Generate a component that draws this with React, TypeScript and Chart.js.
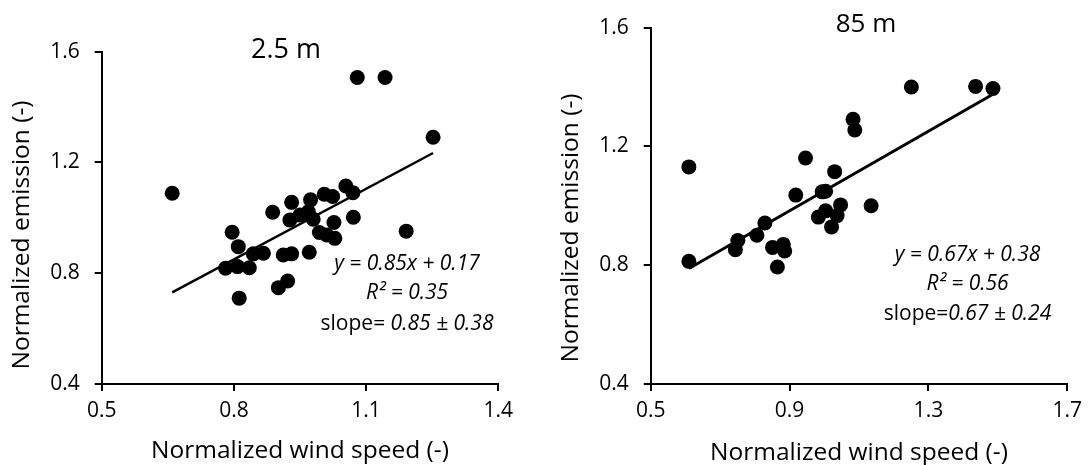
import React, { useEffect, useRef } from "react";
import { Chart, registerables } from "chart.js";

Chart.register(...registerables);

const FONT = "'Open Sans', 'Noto Sans', sans-serif";

// ---- Data: 2.5 m panel ----
const wind25 = [0.660, 1.080, 1.143, 1.252, 1.191, 0.796, 0.810, 0.781, 0.808, 0.835, 0.812, 0.844, 0.867, 0.888, 0.901, 0.922, 0.912, 0.931, 0.927, 0.931, 0.950, 0.971, 0.974, 0.980, 0.994, 1.005, 1.024, 1.011, 1.027, 1.029, 1.054, 1.070, 1.071, 0.969];
const emission25 = [1.089, 1.507, 1.507, 1.291, 0.952, 0.948, 0.896, 0.818, 0.824, 0.820, 0.710, 0.870, 0.872, 1.020, 0.748, 0.772, 0.866, 0.870, 0.992, 1.056, 1.010, 0.876, 1.065, 0.995, 0.947, 1.085, 1.077, 0.938, 0.983, 0.926, 1.115, 1.091, 1.002, 1.022];
const fit25 = { slope: 0.85, intercept: 0.17 };
const xTicks25 = [0.5, 0.8, 1.1, 1.4];

// ---- Data: 85 m panel ----
const wind85 = [0.610, 0.610, 0.751, 0.744, 0.806, 0.829, 0.851, 0.882, 0.886, 0.865, 0.918, 0.946, 0.994, 1.004, 1.030, 0.983, 1.004, 1.021, 1.037, 1.047, 1.083, 1.088, 1.135, 1.251, 1.436, 1.486];
const emission85 = [1.131, 0.813, 0.883, 0.852, 0.901, 0.942, 0.860, 0.870, 0.848, 0.794, 1.036, 1.161, 1.047, 1.049, 1.115, 0.962, 0.983, 0.929, 0.967, 1.003, 1.291, 1.255, 1.000, 1.400, 1.402, 1.395];
const fit85 = { slope: 0.67, intercept: 0.38 };
const xTicks85 = [0.5, 0.9, 1.3, 1.7];

const yTicks = [0.4, 0.8, 1.2, 1.6];

const panels = [
  {
    title: "2.5 m",
    wind: wind25,
    emission: emission25,
    fit: fit25,
    xTicks: xTicks25,
    eqText: "y = 0.85x + 0.17",
    r2Text: "R² = 0.35",
    slopeLabel: "slope= ",
    slopeText: "0.85 ± 0.38",
    width: 545,
    left: 101.7,
    right: 498.3,
    top: 51.7,
    bottom: 384,
    lineWidth: 2.5,
    titleSize: 27,
    titleX: 286,
    titleY: 58,
    yTitleX: 22.4,
    yTitleY: 235,
    xTitleY: 458,
    annX: 407,
    annY: [270, 299, 329.5],
  },
  {
    title: "85 m",
    wind: wind85,
    emission: emission85,
    fit: fit85,
    xTicks: xTicks85,
    eqText: "y = 0.67x + 0.38",
    r2Text: "R² = 0.56",
    slopeLabel: "slope=",
    slopeText: "0.67 ± 0.24",
    width: 544,
    left: 105.7,
    right: 525,
    top: 19.3,
    bottom: 384,
    lineWidth: 3,
    titleSize: 26,
    titleX: 321,
    titleY: 32,
    yTitleX: 26.5,
    yTitleY: 228,
    xTitleY: 460,
    annX: 422.5,
    annY: [261, 290, 320],
  },
];

const HEIGHT = 465;

const textPlugin = {
  id: "panelTexts",
  afterDraw(chart: any, _args: any, opts: any) {
    const p = opts.panel;
    if (!p) return;
    const ctx = chart.ctx;
    const a = chart.chartArea;
    ctx.save();
    ctx.fillStyle = "#000";
    ctx.textAlign = "center";
    ctx.textBaseline = "alphabetic";
    // title
    ctx.font = `${p.titleSize}px ${FONT}`;
    ctx.fillText(p.title, p.titleX, p.titleY);
    // x title
    ctx.font = `24.5px ${FONT}`;
    ctx.fillText("Normalized wind speed (-)", (a.left + a.right) / 2, p.xTitleY);
    // y title
    ctx.save();
    ctx.translate(p.yTitleX, p.yTitleY);
    ctx.rotate(-Math.PI / 2);
    ctx.textBaseline = "middle";
    ctx.fillText("Normalized emission (-)", 0, 0);
    ctx.restore();
    // annotations
    const ital = `italic 21px ${FONT}`;
    const reg = `21px ${FONT}`;
    ctx.font = ital;
    ctx.fillText(p.eqText, p.annX, p.annY[0]);
    ctx.fillText(p.r2Text, p.annX, p.annY[1]);
    ctx.font = reg;
    const w1 = ctx.measureText(p.slopeLabel).width;
    ctx.font = ital;
    const w2 = ctx.measureText(p.slopeText).width;
    const x0 = p.annX - (w1 + w2) / 2;
    ctx.textAlign = "left";
    ctx.font = reg;
    ctx.fillText(p.slopeLabel, x0, p.annY[2]);
    ctx.font = ital;
    ctx.fillText(p.slopeText, x0 + w1, p.annY[2]);
    ctx.restore();
  },
};

function Panel({ p }: { p: any }) {
  const ref = useRef<HTMLCanvasElement | null>(null);
  useEffect(() => {
    if (!ref.current) return;
    const xmin = Math.min(...p.wind);
    const xmax = Math.max(...p.wind);
    const fitLine = [xmin, xmax].map((x) => ({ x, y: p.fit.slope * x + p.fit.intercept }));
    const tickFont = { family: FONT, size: 21 };
    const chart = new Chart(ref.current, {
      type: "scatter",
      data: {
        datasets: [
          {
            type: "line",
            data: fitLine,
            borderColor: "#000",
            borderWidth: p.lineWidth,
            pointRadius: 0,
            fill: false,
          } as any,
          {
            type: "scatter",
            data: p.wind.map((x: number, i: number) => ({ x, y: p.emission[i] })),
            backgroundColor: "#000",
            borderColor: "#000",
            borderWidth: 0,
            pointRadius: 7.5,
            pointHoverRadius: 7.5,
          },
        ],
      },
      options: {
        responsive: false,
        animation: false,
        events: [],
        layout: { padding: { left: 0, top: p.top, right: p.width - p.right, bottom: 0 } },
        plugins: {
          legend: { display: false },
          tooltip: { enabled: false },
          panelTexts: { panel: p },
        } as any,
        scales: {
          x: {
            type: "linear",
            min: p.xTicks[0],
            max: p.xTicks[p.xTicks.length - 1],
            afterFit: (s: any) => {
              s.height = HEIGHT - p.bottom;
            },
            afterBuildTicks: (s: any) => {
              s.ticks = p.xTicks.map((v: number) => ({ value: v }));
            },
            ticks: {
              font: tickFont,
              color: "#000",
              padding: 7,
              maxRotation: 0,
              autoSkip: false,
              callback: (v: any) => Number(v).toFixed(1),
            },
            grid: { drawOnChartArea: false, drawTicks: true, tickLength: 7, color: "#000", lineWidth: 2 },
            border: { color: "#000", width: 2 },
          },
          y: {
            type: "linear",
            min: yTicks[0],
            max: yTicks[yTicks.length - 1],
            afterFit: (s: any) => {
              s.width = p.left;
            },
            afterBuildTicks: (s: any) => {
              s.ticks = yTicks.map((v: number) => ({ value: v }));
            },
            ticks: {
              font: tickFont,
              color: "#000",
              padding: 15,
              autoSkip: false,
              callback: (v: any) => Number(v).toFixed(1),
            },
            grid: { drawOnChartArea: false, drawTicks: true, tickLength: 7, color: "#000", lineWidth: 2 },
            border: { color: "#000", width: 2 },
          },
        },
      },
      plugins: [textPlugin],
    } as any);
    return () => chart.destroy();
  }, [p]);
  return <canvas ref={ref} width={p.width} height={HEIGHT} style={{ display: "block", width: p.width, height: HEIGHT }} />;
}

export default function App() {
  return (
    <div style={{ position: "fixed", left: 0, top: 0, width: 1089, height: HEIGHT, display: "flex", background: "#fff" }}>
      {panels.map((p) => (
        <Panel key={p.title} p={p} />
      ))}
    </div>
  );
}
